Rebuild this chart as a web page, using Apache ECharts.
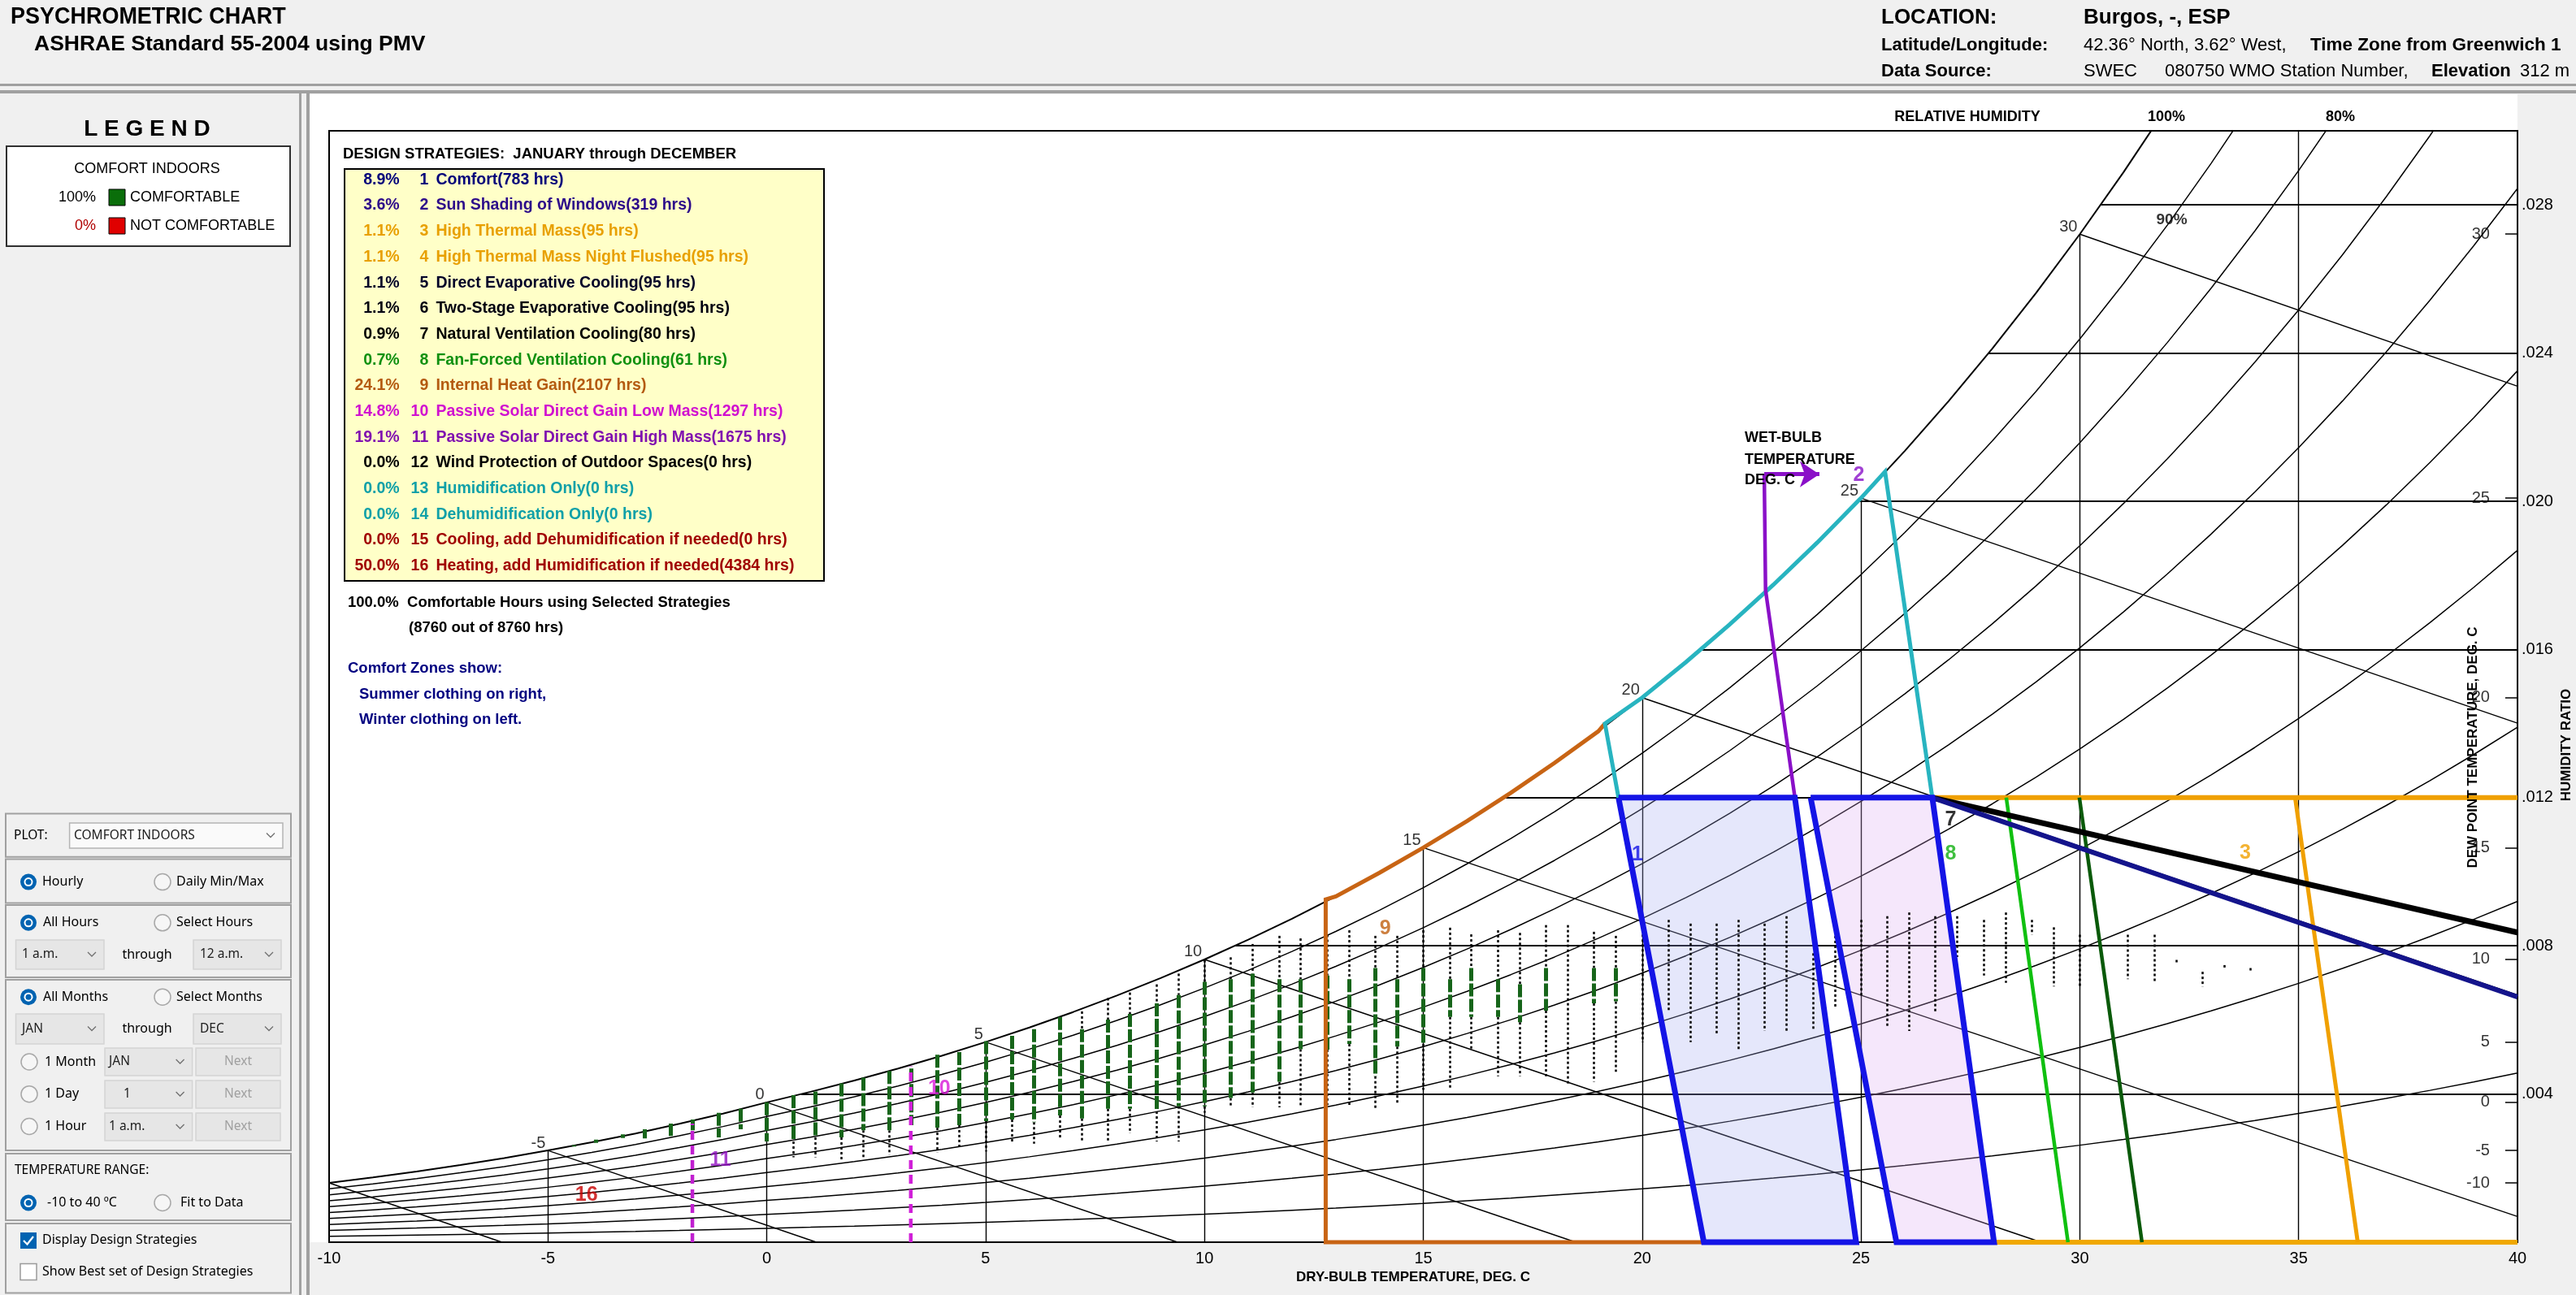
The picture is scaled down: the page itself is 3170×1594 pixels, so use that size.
<!DOCTYPE html>
<html><head><meta charset="utf-8">
<script src="https://cdn.jsdelivr.net/npm/echarts/dist/echarts.min.js"></script>
<style>html,body{margin:0;padding:0;background:#f0f0f0;}#c{width:3170px;height:1594px;}</style>
</head><body><div id="c"></div><script>
// ================= DATA =================
// saturation vapour pressure table (kPa) at whole degrees C, sea-level chart
const satTemps = [-10,-9,-8,-7,-6,-5,-4,-3,-2,-1,0,1,2,3,4,5,6,7,8,9,10,11,12,13,14,15,16,17,18,19,20,21,22,23,24,25,26,27,28,29,30,31,32,33,34,35,36,37,38,39,40];
const satPress = [0.2600,0.2844,0.3102,0.3381,0.3684,0.4017,0.4373,0.4757,0.5177,0.5623,0.6112,0.6571,0.7060,0.7581,0.8135,0.8726,0.9354,1.0021,1.0730,1.1482,1.2282,1.3129,1.4028,1.4981,1.5989,1.7057,1.8188,1.9383,2.0647,2.1982,2.3392,2.4881,2.6452,2.8109,2.9856,3.1697,3.3637,3.5679,3.7828,4.0089,4.2467,4.4966,4.7592,5.0351,5.3247,5.6286,5.9475,6.2818,6.6324,6.9997,7.3844];
const rhLevels = [10,20,30,40,50,60,70,80,90];
const dryBulbLines = [-5,0,5,10,15,20,25,30,35];
const humRatioLines = [0.004,0.008,0.012,0.016,0.020,0.024,0.028];
const wetBulbLines = [-10,-5,0,5,10,15,20,25,30];
const wetBulbLabels = [-5,0,5,10,15,20,25,30];
const dewPointTicks = [30,25,20,15,10,5,0,-5,-10];

// hourly data, one column per whole degree F (deg C), humidity-ratio ranges
const colT    = [-4.4,-3.9,-3.3,-2.8,-2.2,-1.7,-1.1,-0.6,0.0,0.6,1.1,1.7,2.2,2.8,3.3,3.9,4.4,5.0,5.6,6.1,6.7,7.2,7.8,8.3,8.9,9.4,10.0,10.6,11.1,11.7,12.2,12.8,13.3,13.9,14.4,15.0,15.6,16.1,16.7,17.2,17.8,18.3,18.9,19.4,20.0,20.6,21.1,21.7,22.2,22.8,23.3,23.9,24.4,25.0,25.6,26.1,26.7,27.2,27.8,28.3,28.9,29.4,30.0,31.1,31.7,32.2,32.8,33.3,33.9];
const colTop  = [.00262,.00277,.00291,.00305,.00320,.00331,.00349,.00360,.00378,.00397,.00407,.00429,.00444,.00462,.00469,.00506,.00513,.00543,.00557,.00575,.00608,.00623,.00659,.00674,.00696,.00725,.00762,.00769,.00805,.00827,.00820,.00830,.00842,.00827,.00827,.00842,.00849,.00831,.00842,.00835,.00856,.00856,.00838,.00827,.00870,.00870,.00860,.00860,.00870,.00860,.00880,.00780,.00840,.00870,.00880,.00890,.00880,.00880,.00870,.00890,.00870,.00850,.00830,.00830,.00830,.00762,.00730,.00748,.00740];
const colGTop = [.00262,.00277,.00291,.00305,.00320,.00331,.00349,.00360,.00378,.00397,.00407,.00429,.00444,.00462,.00469,.00506,.00513,.00543,.00557,.00575,.00608,.00575,.00601,.00616,.00645,.00667,.00703,.00710,.00725,.00710,.00710,.00720,.00710,.00740,.00710,.00740,.00710,.00740,.00710,.00696,.00740,null,.00740,.00740,null,null,null,null,null,null,null,null,null,null,null,null,null,null,null,null,null,null,null,null,null,null,null,null,null];
const colGBot = [.00258,.00268,.00281,.00280,.00287,.00302,.00283,.00305,.00272,.00272,.00283,.00283,.00302,.00302,.00316,.00309,.00316,.00327,.00331,.00324,.00342,.00334,.00360,.00360,.00353,.00367,.00367,.00389,.00404,.00433,.00521,.00520,.00535,.00448,.00528,.00535,.00608,.00608,.00608,.00594,.00625,null,.00645,.00650,null,null,null,null,null,null,null,null,null,null,null,null,null,null,null,null,null,null,null,null,null,null,null,null,null];
const colBot  = [.00258,.00268,.00281,.00280,.00287,.00302,.00283,.00305,.00272,.00229,.00229,.00221,.00229,.00236,.00316,.00243,.00258,.00245,.00269,.00266,.00280,.00272,.00272,.00294,.00272,.00272,.00350,.00367,.00364,.00364,.00364,.00370,.00364,.00356,.00375,.00411,.00411,.00521,.00448,.00448,.00448,.00426,.00433,.00460,.00540,.00620,.00540,.00560,.00520,.00570,.00570,.00570,.00630,.00660,.00580,.00570,.00620,.00770,.00720,.00700,.00830,.00690,.00690,.00710,.00700,.00752,.00690,.00738,.00730];

// design strategy boundaries (deg C, humidity ratio)
const comfortWinter = [[19.46,0.012],[23.49,0.012],[24.89,0],[21.41,0]];
const comfortSummer = [[23.85,0.012],[26.63,0.012],[28.04,0],[25.81,0]];
const heatGainStart = [[21.41,0],[12.77,0],[12.77,0.00925]];
const heatGainSatT  = [13,14,15,16,17,18,19];
const heatGainEnd   = [19.15,0.01400];
const dehumStart    = [[19.46,0.012],[19.15,0.01400]];
const dehumSatT     = [20,21,22,23,24,25];
const dehumEnd      = [[25.55,0.02080],[26.63,0.012]];
const sunShading    = [[22.79,0.02073],[22.82,0.01760],[23.49,0.012]];
const sunArrow      = [[22.79,0.02073],[24.05,0.02073]];
const thermalMassTop = [[26.63,0.012],[40,0.012]];
const thermalMassEdge = [[34.92,0.012],[36.35,0]];
const thermalMassBottom = [[28.04,0],[40,0]];
const natVent  = [[26.63,0.012],[40,0.00836]];
const fanVent  = [[26.63,0.012],[40,0.00662]];
const fanEdge  = [[28.32,0.012],[29.73,0]];
const ventEdge = [[29.99,0.012],[31.42,0]];
const solarHigh = [[-1.70,0],[-1.70,0.00320]];
const solarLow  = [[3.29,0],[3.29,0.00475]];
const zoneLabelText = ['1','2','3','7','8','9','10','11','16'];
const zoneLabelT = [19.89,24.95,33.78,27.05,27.05,14.13,3.94,-1.06,-4.12];
const zoneLabelW = [0.01046,0.02069,0.01050,0.01140,0.01048,0.00847,0.00415,0.00221,0.00126];
const zoneLabelColor = ['#1414e6','#8a10c8','#f0a000','#000000','#10b010','#c06010','#d818d8','#9010c0','#c80000'];

// strategy list
const stratPct = ['8.9%','3.6%','1.1%','1.1%','1.1%','1.1%','0.9%','0.7%','24.1%','14.8%','19.1%','0.0%','0.0%','0.0%','0.0%','50.0%'];
const stratNum = [1,2,3,4,5,6,7,8,9,10,11,12,13,14,15,16];
const stratName = ['Comfort','Sun Shading of Windows','High Thermal Mass','High Thermal Mass Night Flushed','Direct Evaporative Cooling','Two-Stage Evaporative Cooling','Natural Ventilation Cooling','Fan-Forced Ventilation Cooling','Internal Heat Gain','Passive Solar Direct Gain Low Mass','Passive Solar Direct Gain High Mass','Wind Protection of Outdoor Spaces','Humidification Only','Dehumidification Only','Cooling, add Dehumidification if needed','Heating, add Humidification if needed'];
const stratHrs = [783,319,95,95,95,95,80,61,2107,1297,1675,0,0,0,0,4384];
const stratColor = ['#00007a','#2c0a8a','#e8a000','#e8a000','#000028','#000010','#000000','#109010','#b45a10','#d010d0','#8010b0','#000000','#10a0a8','#10a0a8','#a00000','#a00000'];

// ================= HELPERS =================
const P = 101.325;
const FF = "'Liberation Sans', Arial, Helvetica, sans-serif";
const UF = "'Noto Sans', 'Open Sans', sans-serif";
function wFromPv(pv){ return 0.622*pv/(P-pv); }
function wsat(t){ return wFromPv(satPress[satTemps.indexOf(t)]); }
function dewT(w){ const pv = w*P/(0.622+w); for(let i=0;i<satPress.length-1;i++){ if(pv>=satPress[i] && pv<=satPress[i+1]) return satTemps[i]+(pv-satPress[i])/(satPress[i+1]-satPress[i]); } return 40; }
const YMAX = 0.030;

function lineS(data, color, width, z, type){
  return {type:'line', data:data, showSymbol:false, symbol:'none', silent:true, animation:false, clip:false,
    lineStyle:{color:color, width:width, type:type||'solid', cap:'butt', join:'miter'}, z:z};
}

// ================= SERIES =================
const series = [];
// RH curves + saturation
rhLevels.concat([100]).forEach(rh=>{
  series.push({type:'line', data:satTemps.map((t,i)=>[t, wFromPv(rh/100*satPress[i])]), showSymbol:false, symbol:'none',
    silent:true, animation:false, clip:true, lineStyle:{color:'#000', width: rh===100?2:1.5}, z:1});
});
// dry bulb, humidity ratio, wet bulb lines
const gridLines = [];
dryBulbLines.forEach(t=>gridLines.push({coords:[[t,0],[t,Math.min(wsat(t),YMAX)]], lineStyle:{width:1.4}}));
humRatioLines.forEach(w=>gridLines.push({coords:[[dewT(w),w],[40,w]], lineStyle:{width:2}}));
wetBulbLines.forEach(t=>{
  const w0 = wsat(t); const h = 1.006*t + w0*(2501+1.86*t);
  const t1 = h/1.006;
  const end = t1<=40 ? [t1,0] : [40,(h-1.006*40)/(2501+1.86*40)];
  gridLines.push({coords:[[t,w0],end], lineStyle:{width:1.4}});
});
dewPointTicks.forEach(t=>gridLines.push({coords:[[39.72,wsat(t)],[40,wsat(t)]], lineStyle:{width:1.5}}));
series.push({type:'lines', coordinateSystem:'cartesian2d', polyline:false, silent:true, animation:false, z:1,
  lineStyle:{color:'#000', width:1, opacity:1}, data:gridLines});

// comfort zone fills
series.push({type:'custom', silent:true, animation:false, z:1.5, data:[[0,0]],
  renderItem:(params,api)=>({type:'group', children:[
    {type:'polygon', shape:{points:comfortWinter.map(p=>api.coord(p))}, style:{fill:'rgba(160,170,240,0.28)'}},
    {type:'polygon', shape:{points:comfortSummer.map(p=>api.coord(p))}, style:{fill:'rgba(220,170,240,0.28)'}}
  ]})});

// hourly data columns
const greenSegs = [], blackSegs = [];
colT.forEach((t,i)=>{
  if(colGTop[i]!==null){
    if(colTop[i]>colGTop[i]) blackSegs.push({coords:[[t,colTop[i]],[t,colGTop[i]]]});
    greenSegs.push({coords:[[t,colGTop[i]],[t,colGBot[i]]]});
    if(colGBot[i]>colBot[i]) blackSegs.push({coords:[[t,colGBot[i]],[t,colBot[i]]]});
  } else {
    blackSegs.push({coords:[[t,colTop[i]],[t,colBot[i]]]});
  }
});
series.push({type:'lines', coordinateSystem:'cartesian2d', silent:true, animation:false, z:2,
  lineStyle:{color:'#000', width:2.5, type:[3,3], opacity:1}, data:blackSegs});
series.push({type:'lines', coordinateSystem:'cartesian2d', silent:true, animation:false, z:2.1,
  lineStyle:{color:'#17651a', width:5, type:[16,3], opacity:1}, data:greenSegs});

// strategy boundaries
const heatGain = heatGainStart.concat(heatGainSatT.map(t=>[t,wsat(t)])).concat([heatGainEnd]);
const dehum = dehumStart.concat(dehumSatT.map(t=>[t,wsat(t)])).concat(dehumEnd);
series.push(lineS(thermalMassBottom,'#f0a800',6,3));
series.push(lineS(heatGain,'#c86414',5,3));
series.push(lineS(thermalMassTop,'#f0a000',6,3));
series.push(lineS(thermalMassEdge,'#f0a000',5,3));
series.push(lineS(fanEdge,'#10c010',4.5,3));
series.push(lineS(ventEdge,'#0a5a0a',4.5,3));
series.push(lineS(natVent,'#000000',7,3.2));
series.push(lineS(fanVent,'#14148c',6,3.3));
series.push(lineS(dehum,'#28b4c0',5,3.4));
series.push(lineS(sunShading,'#8a10c8',4.5,3.5));
series.push({type:'lines', coordinateSystem:'cartesian2d', silent:true, animation:false, z:3.5,
  symbol:['none','arrow'], symbolSize:[0,24], lineStyle:{color:'#8a10c8', width:5, opacity:1},
  data:[{coords:sunArrow}]});
series.push(lineS(comfortWinter.concat([comfortWinter[0]]),'#1414e6',7,3.6));
series.push(lineS(comfortSummer.concat([comfortSummer[0]]),'#1414e6',7,3.6));
series.push(lineS(solarHigh,'#c020d0',4.5,3.7,[11,7]));
series.push(lineS(solarLow,'#d020d8',4.5,3.7,[11,7]));

// labels
series.push({type:'scatter', silent:true, animation:false, z:5, symbolSize:0,
  data:wetBulbLabels.map(t=>[t,wsat(t)]),
  label:{show:true, formatter:p=>String(wetBulbLabels[p.dataIndex]), position:'left', distance:3, offset:[0,-9], fontSize:20, color:'#000', fontFamily:FF}});
series.push({type:'scatter', silent:true, animation:false, z:5, symbolSize:0,
  data:dewPointTicks.map(t=>[39.72,wsat(t)]),
  label:{show:true, formatter:p=>String(dewPointTicks[p.dataIndex]), position:'left', distance:19, fontSize:20, color:'#000', fontFamily:FF}});
series.push({type:'scatter', silent:true, animation:false, z:5, symbolSize:0,
  data:[[32.1,0.0276]],
  label:{show:true, formatter:'90%', position:'inside', fontSize:19, color:'#000', fontWeight:'bold', fontFamily:FF}});
series.push({type:'scatter', silent:true, animation:false, z:6, symbolSize:0,
  data:zoneLabelT.map((t,i)=>({value:[t,zoneLabelW[i]], label:{color:zoneLabelColor[i]}})),
  label:{show:true, formatter:p=>zoneLabelText[p.dataIndex], position:'inside', fontSize:25, fontWeight:'bold', fontFamily:FF}});

// ================= GRAPHIC (page furniture) =================
const G = [];
function T(x,y,s,o){ o=o||{}; G.push({type:'text', x:x, y:y, z:o.z==null?50:o.z, scaleX:o.sx||1, rotation:o.rot||0, silent:true,
  style:{text:s, x:0, y:0, fill:o.c||'#000', font:(o.b?'bold ':'')+(o.fs||16)+'px '+(o.ff||FF), textAlign:o.al||'left', textVerticalAlign:'middle', align:o.al||'left', verticalAlign:'middle'}}); }
function R(x,y,w,h,o){ o=o||{}; G.push({type:'rect', z:o.z==null?40:o.z, silent:true, shape:{x:x,y:y,width:w,height:h}, style:{fill:o.fill||'none', stroke:o.stroke||null, lineWidth:o.lw||1}}); }
function C(cx,cy,r,o){ o=o||{}; G.push({type:'circle', z:o.z==null?41:o.z, silent:true, shape:{cx:cx,cy:cy,r:r}, style:{fill:o.fill||'none', stroke:o.stroke||null, lineWidth:o.lw||1}}); }
function PL(pts,o){ o=o||{}; G.push({type:'polyline', z:o.z==null?42:o.z, silent:true, shape:{points:pts}, style:{stroke:o.c||'#000', lineWidth:o.lw||1.5, fill:null}}); }

// panels
R(380,116,2718,1413,{fill:'#ffffff', z:-5});
R(0,103,3170,3,{fill:'#a0a0a0', z:-4}); R(0,111,3170,4,{fill:'#a0a0a0', z:-4});
R(368,115,3,1479,{fill:'#a0a0a0', z:-4}); R(377,115,4,1479,{fill:'#a0a0a0', z:-4});

// header
T(13,21,'PSYCHROMETRIC CHART',{b:true, fs:29, sx:0.93});
T(42,55,'ASHRAE Standard 55-2004 using PMV',{b:true, fs:26.5});
T(2315,22,'LOCATION:',{b:true, fs:26});
T(2564,22,'Burgos, -, ESP',{b:true, fs:26});
T(2315,56,'Latitude/Longitude:',{b:true, fs:22});
T(2564,56,'42.36° North, 3.62° West,',{fs:22});
T(2843,56,'Time Zone from Greenwich 1',{b:true, fs:22.5});
T(2315,88,'Data Source:',{b:true, fs:22});
T(2564,88,'SWEC',{fs:22});
T(2664,88,'080750 WMO Station Number,',{fs:22});
T(2992,88,'Elevation',{b:true, fs:22});
T(3101,88,'312 m',{fs:22});

// legend
T(181,159,'L E G E N D',{b:true, fs:28, al:'center'});
R(8,180,349,123,{fill:'#ffffff', stroke:'#303030', lw:2});
T(181,208,'COMFORT INDOORS',{fs:18, al:'center'});
T(118,243,'100%',{fs:18, al:'right'});
R(134,233,20,20,{fill:'#0a6e0a', stroke:'#000', lw:1});
T(160,243,'COMFORTABLE',{fs:18});
T(118,278,'0%',{fs:18, al:'right', c:'#b00000'});
R(134,268,20,20,{fill:'#e00000', stroke:'#000', lw:1});
T(160,278,'NOT COMFORTABLE',{fs:18});

// controls
function radio(cx,cy,on){ if(on){ C(cx,cy,10,{fill:'#0063b1'}); C(cx,cy,5.5,{fill:'#ffffff',z:42}); C(cx,cy,3.5,{fill:'#0063b1',z:43}); } else { C(cx,cy,10,{fill:'#f6f6f6', stroke:'#a8a8a8', lw:1.5}); } }
function combo(x,y,w,h,s,tx,fill,stroke){ R(x,y,w,h,{fill:fill||'#e6e6e6', stroke:stroke||'#d4d4d4', lw:1.5}); T(tx,y+h/2,s,{ff:UF, fs:15.5, c:'#202020'}); PL([[x+w-20,y+h/2-3],[x+w-15,y+h/2+2],[x+w-10,y+h/2-3]],{c:'#707070', lw:1.3}); }
function button(x,y,w,h,s){ R(x,y,w,h,{fill:'#e6e6e6', stroke:'#d4d4d4', lw:1.5}); T(x+w/2,y+h/2,s,{ff:UF, fs:15.5, c:'#a0a0a0', al:'center'}); }
[[1001.6,1054.8],[1057.5,1111.5],[1114,1203],[1206,1416],[1420,1502],[1506,1591.6]].forEach(b=>R(7,b[0],351,b[1]-b[0],{stroke:'#a0a0a0', lw:2}));
T(17,1028.6,'PLOT:',{ff:UF, fs:15.5});
combo(85.6,1013,262.4,31,'COMFORT INDOORS',91,'#fafafa','#b4b4b4');
radio(35,1085.6,true); T(52,1085.6,'Hourly',{ff:UF, fs:16});
radio(200,1085.6,false); T(217,1085.6,'Daily Min/Max',{ff:UF, fs:16});
radio(35,1135.8,true); T(53,1135.8,'All Hours',{ff:UF, fs:16});
radio(200,1135.8,false); T(217,1135.8,'Select Hours',{ff:UF, fs:16});
combo(19.5,1157,108.5,36,'1 a.m.',27); T(181,1175,'through',{ff:UF, fs:16, al:'center'}); combo(238,1157,108,36,'12 a.m.',246);
radio(35,1227.2,true); T(53,1227.2,'All Months',{ff:UF, fs:16});
radio(200,1227.2,false); T(217,1227.2,'Select Months',{ff:UF, fs:16});
combo(19.5,1248,108.5,37,'JAN',27); T(181,1266,'through',{ff:UF, fs:16, al:'center'}); combo(238,1248,108,37,'DEC',246);
radio(36,1307,false); T(55,1307,'1 Month',{ff:UF, fs:16}); combo(129,1290,107.6,34,'JAN',134); button(241,1290,104,34,'Next');
radio(36,1346.7,false); T(55,1346.7,'1 Day',{ff:UF, fs:16}); combo(129,1330,107.6,34,'1',152); button(241,1330,104,34,'Next');
radio(36,1386.5,false); T(55,1386.5,'1 Hour',{ff:UF, fs:16}); combo(129,1370,107.6,34,'1 a.m.',134); button(241,1370,104,34,'Next');
T(18,1441,'TEMPERATURE RANGE:',{ff:UF, fs:15.5});
radio(35,1480.5,true); T(58,1480.5,'-10 to 40 ºC',{ff:UF, fs:16});
radio(200,1480.5,false); T(222,1480.5,'Fit to Data',{ff:UF, fs:16});
R(25,1517,20,20,{fill:'#0063b1', z:41}); PL([[29,1527],[33.5,1531.5],[41,1522]],{c:'#ffffff', lw:2.2, z:43});
T(52,1526.8,'Display Design Strategies',{ff:UF, fs:16});
R(25,1555.5,20,20,{fill:'#ffffff', stroke:'#9a9a9a', lw:1.5}); T(52,1565.4,'Show Best set of Design Strategies',{ff:UF, fs:16});

// chart texts
T(2421,144,'RELATIVE HUMIDITY',{b:true, fs:18, al:'center'});
T(2666,144,'100%',{b:true, fs:18, al:'center'});
T(2880,144,'80%',{b:true, fs:18, al:'center'});
T(2147,539,'WET-BULB',{b:true, fs:18, z:5});
T(2147,566,'TEMPERATURE',{b:true, fs:18, z:5});
T(2147,591,'DEG. C',{b:true, fs:18, z:5});
T(1739,1572,'DRY-BULB TEMPERATURE, DEG. C',{b:true, fs:17, al:'center'});
T(3043,920,'DEW POINT TEMPERATURE, DEG. C',{b:true, fs:17, al:'center', rot:Math.PI/2, z:6});
T(3158,917,'HUMIDITY RATIO',{b:true, fs:17, al:'center', rot:Math.PI/2});

// design strategy list
T(422,190,'DESIGN STRATEGIES:  JANUARY through DECEMBER',{b:true, fs:18.5, z:100});
R(424,208,590,507,{fill:'#ffffc8', stroke:'#000', lw:2, z:99});
stratName.forEach((n,i)=>{
  const y = 221.4 + i*31.69; const c = stratColor[i];
  T(491.7,y,stratPct[i],{b:true, fs:19.5, al:'right', c:c, z:100});
  T(527.3,y,String(stratNum[i]),{b:true, fs:19.5, al:'right', c:c, z:100});
  T(536.4,y,n+'('+stratHrs[i]+' hrs)',{b:true, fs:19.5, c:c, z:100});
});
T(428,742,'100.0%  Comfortable Hours using Selected Strategies',{b:true, fs:18.5, z:100});
T(503,773,'(8760 out of 8760 hrs)',{b:true, fs:18.5, z:100});
T(428,823,'Comfort Zones show:',{b:true, fs:18.5, c:'#000080', z:100});
T(442,855,'Summer clothing on right,',{b:true, fs:18.5, c:'#000080', z:100});
T(442,886,'Winter clothing on left.',{b:true, fs:18.5, c:'#000080', z:100});

// ================= CHART =================
const chart = echarts.init(document.getElementById('c'), null, {renderer:'canvas', width:3170, height:1594});
chart.setOption({
  animation:false,
  backgroundColor:'#f0f0f0',
  grid:{left:405, top:161, width:2693, height:1368, show:true, backgroundColor:'#ffffff', borderColor:'#000', borderWidth:2, containLabel:false},
  xAxis:{type:'value', min:-10, max:40, interval:5, axisLine:{show:false}, axisTick:{show:false}, splitLine:{show:false},
    axisLabel:{fontSize:20, color:'#000', margin:10, fontFamily:FF}},
  yAxis:{type:'value', position:'right', min:0, max:YMAX, interval:0.004, axisLine:{show:false}, axisTick:{show:false}, splitLine:{show:false},
    axisLabel:{fontSize:20, color:'#000', margin:5, fontFamily:FF,
      formatter:v=>(v<=0||Math.abs(v-YMAX)<1e-9)?'':v.toFixed(3).replace(/^0/,'')}},
  graphic:{elements:G},
  series:series
});
</script></body></html>
